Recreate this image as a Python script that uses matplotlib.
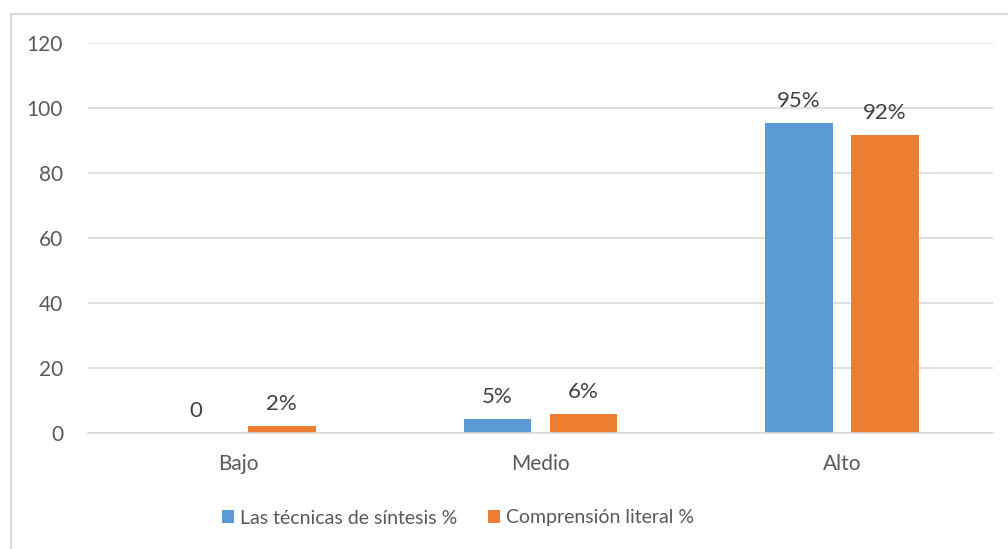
import matplotlib
matplotlib.use("Agg")
import matplotlib.pyplot as plt
from matplotlib.patches import Rectangle
import numpy as np

categories = ["Bajo", "Medio", "Alto"]
tecnicas = [0, 4.4, 95.5]
comprension = [2.1, 5.8, 91.7]
labels_tecnicas = ["0", "5%", "95%"]
labels_comprension = ["2%", "6%", "92%"]
series_names = ["Las técnicas de síntesis %", "Comprensión literal %"]
yticks = [0, 20, 40, 60, 80, 100, 120]

blue = "#5b9bd5"
orange = "#ed7d31"
txt = "#595959"
grid = "#d9d9d9"

plt.rcParams['font.family'] = ['Lato', 'DejaVu Sans']

W, H = 1008, 549
fig = plt.figure(figsize=(W / 100, H / 100), dpi=100)
ax = fig.add_axes([88 / W, 1 - 433 / H, (993 - 88) / W, (433 - 43) / H])

x = np.arange(len(categories))
bw = 0.225
off = 0.1425
b1 = ax.bar(x - off, tecnicas, bw, color=blue, label=series_names[0], zorder=3)
b2 = ax.bar(x + off, comprension, bw, color=orange, label=series_names[1], zorder=3)

for bars, labs in ((b1, labels_tecnicas), (b2, labels_comprension)):
    for rect, lab in zip(bars, labs):
        ax.annotate(lab, (rect.get_x() + rect.get_width() / 2, rect.get_height()),
                    xytext=(0, 8.5), textcoords="offset points", ha="center", va="bottom",
                    fontsize=16, color="#404040")

ax.set_xlim(-0.5, 2.5)
ax.set_ylim(0, 120)
ax.set_yticks(yticks)
ax.set_yticklabels([str(v) for v in yticks])
ax.set_xticks(x)
ax.set_xticklabels(categories)
ax.tick_params(axis="both", length=0, labelsize=15, colors=txt)
ax.tick_params(axis="y", pad=18)
ax.tick_params(axis="x", pad=15)
ax.yaxis.grid(True, color=grid, linewidth=1.2, zorder=0)
for s in ["top", "right", "left"]:
    ax.spines[s].set_visible(False)
ax.spines["bottom"].set_color(grid)
ax.spines["bottom"].set_linewidth(1.2)
ax.spines["bottom"].set_zorder(4)

leg = fig.legend(loc="center", bbox_to_anchor=(458 / W, 1 - 518 / H), ncol=2, frameon=False,
                 fontsize=14, handlelength=0.6, handleheight=0.6, handletextpad=0.3,
                 columnspacing=1.6, labelcolor=txt)

fig.patches.append(Rectangle((10.5 / W, -0.1), 1.2, 1 - 13.5 / H + 0.1, transform=fig.transFigure,
                             fill=False, edgecolor=grid, linewidth=1.5))

fig.savefig("out.png", dpi=100)
